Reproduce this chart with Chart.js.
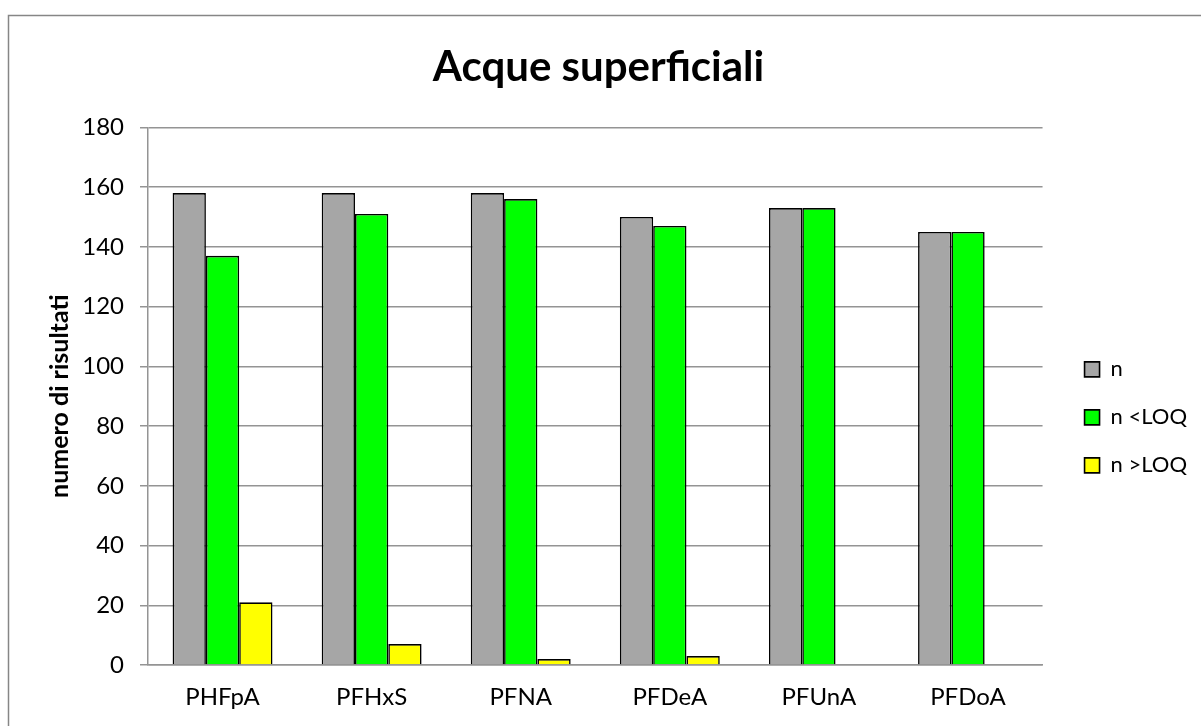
<!DOCTYPE html>
<html>
<head>
<meta charset="utf-8">
<script src="https://cdn.jsdelivr.net/npm/chart.js@4/dist/chart.umd.min.js"></script>
<style>
  html, body { margin: 0; padding: 0; background: #fff; overflow: hidden; }
  #wrap { position: relative; width: 1201px; height: 726px; }
</style>
</head>
<body>
<div id="wrap"><canvas id="chart-canvas"></canvas></div>
<script>
// data
const categories = ['PHFpA', 'PFHxS', 'PFNA', 'PFDeA', 'PFUnA', 'PFDoA']
const nTotal = [158, 158, 158, 150, 153, 145]
const nBelowLoq = [137, 151, 156, 147, 153, 145]
const nAboveLoq = [21, 7, 2, 3, 0, 0]
const yTicks = [0, 20, 40, 60, 80, 100, 120, 140, 160, 180]

const font = 'Lato'
const gridGray = '#949494'

// outer frame of the chart object (runs off the right and bottom edges)
const framePlugin = {
    id: 'frame',
    beforeDraw(chart) {
        const ctx = chart.ctx
        ctx.save()
        ctx.fillStyle = '#fff'
        ctx.fillRect(0, 0, chart.width, chart.height)
        ctx.strokeStyle = '#868686'
        ctx.lineWidth = 1.5
        ctx.strokeRect(8.5, 15.5, chart.width + 50, chart.height + 50)
        ctx.restore()
    }
}

const bar = (label, data, color) => ({
    label: label,
    data: data,
    backgroundColor: color,
    borderColor: '#000',
    borderWidth: (c) => (c.raw === 0 ? 0 : 1.6),
    barPercentage: 1,
    categoryPercentage: 0.67
})

const chart = new Chart(document.getElementById('chart-canvas'), {
    type: 'bar',
    data: {
        labels: categories,
        datasets: [
            bar('n', nTotal, '#a6a6a6'),
            bar('n <LOQ', nBelowLoq, '#00ff00'),
            bar('n >LOQ', nAboveLoq, '#ffff00')
        ]
    },
    plugins: [framePlugin],
    options: {
        responsive: true,
        maintainAspectRatio: false,
        animation: false,
        layout: { padding: { left: 0, right: 4, top: 0, bottom: 0 } },
        plugins: {
            title: {
                display: true,
                text: 'Acque superficiali',
                color: '#000',
                font: { family: font, size: 42, weight: 'bold' },
                padding: { top: 42, bottom: 35 }
            },
            legend: {
                position: 'right',
                align: 'start',
                // empty title only pushes the entries down
                title: { display: true, text: ' ', font: { size: 12 }, padding: { top: 318, bottom: 0 } },
                labels: {
                    color: '#000',
                    font: { family: font, size: 22 },
                    boxWidth: 15,
                    boxHeight: 15,
                    padding: 26
                }
            },
            tooltip: { enabled: false }
        },
        scales: {
            x: {
                grid: { display: false, drawTicks: false },
                border: { color: gridGray, width: 1.5 },
                ticks: { color: '#000', font: { family: font, size: 24 }, padding: 18 },
                afterFit: (s) => { s.height = 61 }
            },
            y: {
                min: 0,
                max: 180,
                afterBuildTicks: (s) => { s.ticks = yTicks.map((v) => ({ value: v })) },
                grid: { color: gridGray, lineWidth: 1.5, tickLength: 8 },
                border: { color: gridGray, width: 1.5 },
                ticks: { color: '#000', font: { family: font, size: 24 }, padding: 16 },
                title: {
                    display: true,
                    text: 'numero di risultati',
                    color: '#000',
                    font: { family: font, size: 25, weight: 'bold' },
                    padding: { top: 45, bottom: 0 }
                },
                afterFit: (s) => { s.width = 148 }
            },
            // blank spacer between plot and legend
            gap: {
                type: 'linear',
                position: 'right',
                ticks: { display: false },
                grid: { display: false },
                border: { display: false },
                afterFit: (s) => { s.width = 16 }
            }
        }
    }
})
</script>
</body>
</html>
